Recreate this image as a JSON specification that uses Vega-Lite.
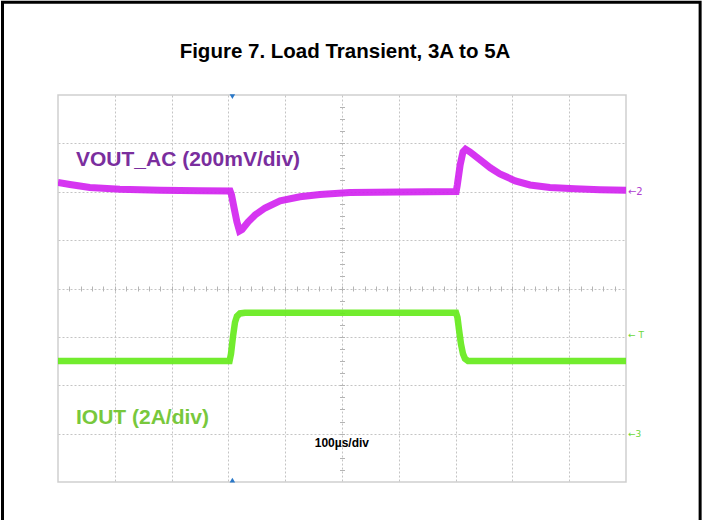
{
  "$schema": "https://vega.github.io/schema/vega-lite/v6.json",
  "width": 568,
  "height": 387,
  "autosize": {"type": "none"},
  "padding": {"left": 58, "top": 95, "right": 80, "bottom": 38},
  "background": "white",
  "config": {
    "view": {"stroke": "#cfcfcf", "strokeWidth": 1.5},
    "font": "Liberation Sans"
  },
  "title": {
    "text": "Figure 7. Load Transient, 3A to 5A",
    "font": "Liberation Sans",
    "fontSize": 20.5,
    "fontWeight": "bold",
    "color": "#000000",
    "frame": "group",
    "anchor": "middle",
    "baseline": "alphabetic",
    "offset": -77.5,
    "dx": 3
  },
  "datasets": {
    "vout": [
      {"t": 0, "mv": 38}, {"t": 21, "mv": 30}, {"t": 56, "mv": 18}, {"t": 109, "mv": 10},
      {"t": 180, "mv": 6}, {"t": 250, "mv": 4}, {"t": 303, "mv": 3}, {"t": 305.5, "mv": -13},
      {"t": 310, "mv": -67}, {"t": 315, "mv": -125}, {"t": 319.5, "mv": -162}, {"t": 324, "mv": -156},
      {"t": 334.5, "mv": -125}, {"t": 347, "mv": -96}, {"t": 364.5, "mv": -67}, {"t": 391, "mv": -38},
      {"t": 426, "mv": -21}, {"t": 461, "mv": -11}, {"t": 514, "mv": -3}, {"t": 602, "mv": -1},
      {"t": 701, "mv": 1}, {"t": 703, "mv": 28}, {"t": 708, "mv": 111}, {"t": 713, "mv": 165},
      {"t": 717.5, "mv": 176}, {"t": 725, "mv": 165}, {"t": 743, "mv": 132}, {"t": 761, "mv": 99},
      {"t": 778, "mv": 74}, {"t": 805, "mv": 45}, {"t": 831, "mv": 28}, {"t": 866, "mv": 18},
      {"t": 910, "mv": 12}, {"t": 954, "mv": 8}, {"t": 1000, "mv": 6}
    ],
    "iout": [
      {"t": 0, "a": 3.0}, {"t": 302, "a": 3.0}, {"t": 304.6, "a": 3.3}, {"t": 308, "a": 4.0},
      {"t": 311.6, "a": 4.6}, {"t": 315, "a": 4.85}, {"t": 320.4, "a": 4.97}, {"t": 329, "a": 5.0},
      {"t": 700.7, "a": 5.0}, {"t": 703.3, "a": 4.8}, {"t": 706, "a": 4.3}, {"t": 709.5, "a": 3.7},
      {"t": 713, "a": 3.3}, {"t": 716.5, "a": 3.1}, {"t": 722, "a": 3.0}, {"t": 1000, "a": 3.0}
    ]
  },
  "layer": [
    {
      "data": {"name": "vout"},
      "mark": {"type": "line", "color": "#d11ff0", "strokeWidth": 7, "opacity": 0.9, "clip": true},
      "encoding": {
        "x": {
          "field": "t", "type": "quantitative",
          "scale": {"domain": [0, 1000], "nice": false, "zero": false},
          "axis": {
            "orient": "bottom", "values": [100, 200, 300, 400, 500, 600, 700, 800, 900],
            "grid": true, "gridColor": "#c4c4c4", "gridDash": [2, 2], "gridWidth": 1,
            "domain": false, "ticks": false, "labels": false, "title": null
          }
        },
        "y": {
          "field": "mv", "type": "quantitative",
          "scale": {"domain": [-1200, 400], "nice": false, "zero": false},
          "axis": {
            "orient": "left", "values": [-1000, -800, -600, -400, -200, 0, 200],
            "grid": true, "gridColor": "#c4c4c4", "gridDash": [2, 2], "gridWidth": 1,
            "domain": false, "ticks": false, "labels": false, "title": null
          }
        }
      }
    },
    {
      "data": {"name": "iout"},
      "mark": {"type": "line", "color": "#66ea1c", "strokeWidth": 6.5, "opacity": 0.92, "clip": true},
      "encoding": {
        "x": {
          "field": "t", "type": "quantitative",
          "axis": {
            "orient": "bottom",
            "values": [20, 40, 60, 80, 100, 120, 140, 160, 180, 200, 220, 240, 260, 280, 300, 320, 340, 360, 380, 400, 420, 440, 460, 480, 500, 520, 540, 560, 580, 600, 620, 640, 660, 680, 700, 720, 740, 760, 780, 800, 820, 840, 860, 880, 900, 920, 940, 960, 980],
            "offset": -196,
            "grid": false, "domain": false, "ticks": true, "tickSize": 5, "tickColor": "#b4b4b4", "tickWidth": 1,
            "labels": false, "title": null
          }
        },
        "y": {
          "field": "a", "type": "quantitative",
          "scale": {"domain": [-2, 14], "nice": false, "zero": false},
          "axis": {
            "orient": "left",
            "values": [-1.5, -1, -0.5, 0, 0.5, 1, 1.5, 2, 2.5, 3, 3.5, 4, 4.5, 5, 5.5, 6, 6.5, 7, 7.5, 8, 8.5, 9, 9.5, 10, 10.5, 11, 11.5, 12, 12.5, 13, 13.5],
            "offset": -286.5,
            "grid": false, "domain": false, "ticks": true, "tickSize": 5, "tickColor": "#b4b4b4", "tickWidth": 1,
            "labels": false, "title": null
          }
        }
      }
    },
    {
      "data": {"values": [{"t": 31.7, "mv": 107, "label": "VOUT_AC (200mV/div)"}]},
      "mark": {"type": "text", "align": "left", "baseline": "alphabetic", "font": "Liberation Sans", "fontSize": 21, "fontWeight": "bold", "color": "#7a2e9e"},
      "encoding": {
        "x": {"field": "t", "type": "quantitative", "axis": null},
        "y": {"field": "mv", "type": "quantitative", "scale": {"domain": [-1200, 400], "nice": false, "zero": false}, "axis": null},
        "text": {"field": "label"}
      }
    },
    {
      "data": {"values": [{"t": 1003.5, "mv": 0, "label": "←2"}]},
      "mark": {"type": "text", "align": "left", "baseline": "middle", "font": "DejaVu Sans", "fontSize": 10, "color": "#b040d0"},
      "encoding": {
        "x": {"field": "t", "type": "quantitative", "axis": null},
        "y": {"field": "mv", "type": "quantitative", "scale": {"domain": [-1200, 400], "nice": false, "zero": false}, "axis": null},
        "text": {"field": "label"}
      }
    },
    {
      "data": {"values": [{"t": 307, "mv": 393}]},
      "mark": {"type": "point", "shape": "triangle-down", "filled": true, "size": 30, "color": "#2a78c8", "opacity": 1},
      "encoding": {
        "x": {"field": "t", "type": "quantitative", "axis": null},
        "y": {"field": "mv", "type": "quantitative", "scale": {"domain": [-1200, 400], "nice": false, "zero": false}, "axis": null}
      }
    },
    {
      "data": {"values": [{"t": 307, "mv": -1192}]},
      "mark": {"type": "point", "shape": "triangle-up", "filled": true, "size": 30, "color": "#2a78c8", "opacity": 1},
      "encoding": {
        "x": {"field": "t", "type": "quantitative", "axis": null},
        "y": {"field": "mv", "type": "quantitative", "scale": {"domain": [-1200, 400], "nice": false, "zero": false}, "axis": null}
      }
    },
    {
      "data": {"values": [{}]},
      "mark": {"type": "rect", "fillOpacity": 0, "stroke": "#000000", "strokeWidth": 3, "clip": false},
      "encoding": {
        "x": {"datum": -97.7, "type": "quantitative", "axis": null},
        "x2": {"datum": 1130.5},
        "y": {"datum": 783, "type": "quantitative", "scale": {"domain": [-1200, 400], "nice": false, "zero": false}, "axis": null},
        "y2": {"datum": -1500}
      }
    },
    {
      "data": {"values": [{"t": 31.7, "a": 0.39, "label": "IOUT (2A/div)"}]},
      "mark": {"type": "text", "align": "left", "baseline": "alphabetic", "font": "Liberation Sans", "fontSize": 21, "fontWeight": "bold", "color": "#78c83c"},
      "encoding": {
        "x": {"field": "t", "type": "quantitative", "axis": null},
        "y": {"field": "a", "type": "quantitative", "scale": {"domain": [-2, 14], "nice": false, "zero": false}, "axis": null},
        "text": {"field": "label"}
      }
    },
    {
      "data": {"values": [{"t": 452, "a": -0.57, "label": "100µs/div"}]},
      "mark": {"type": "text", "align": "left", "baseline": "alphabetic", "font": "Liberation Sans", "fontSize": 12, "fontWeight": "bold", "color": "#000000"},
      "encoding": {
        "x": {"field": "t", "type": "quantitative", "axis": null},
        "y": {"field": "a", "type": "quantitative", "scale": {"domain": [-2, 14], "nice": false, "zero": false}, "axis": null},
        "text": {"field": "label"}
      }
    },
    {
      "data": {"values": [{"t": 1003.5, "a": 4.08, "label": "← T"}, {"t": 1003.5, "a": 0, "label": "←3"}]},
      "mark": {"type": "text", "align": "left", "baseline": "middle", "font": "DejaVu Sans", "fontSize": 9, "color": "#6cd83a"},
      "encoding": {
        "x": {"field": "t", "type": "quantitative", "axis": null},
        "y": {"field": "a", "type": "quantitative", "scale": {"domain": [-2, 14], "nice": false, "zero": false}, "axis": null},
        "text": {"field": "label"}
      }
    }
  ],
  "resolve": {"scale": {"y": "independent"}, "axis": {"x": "independent"}}
}
